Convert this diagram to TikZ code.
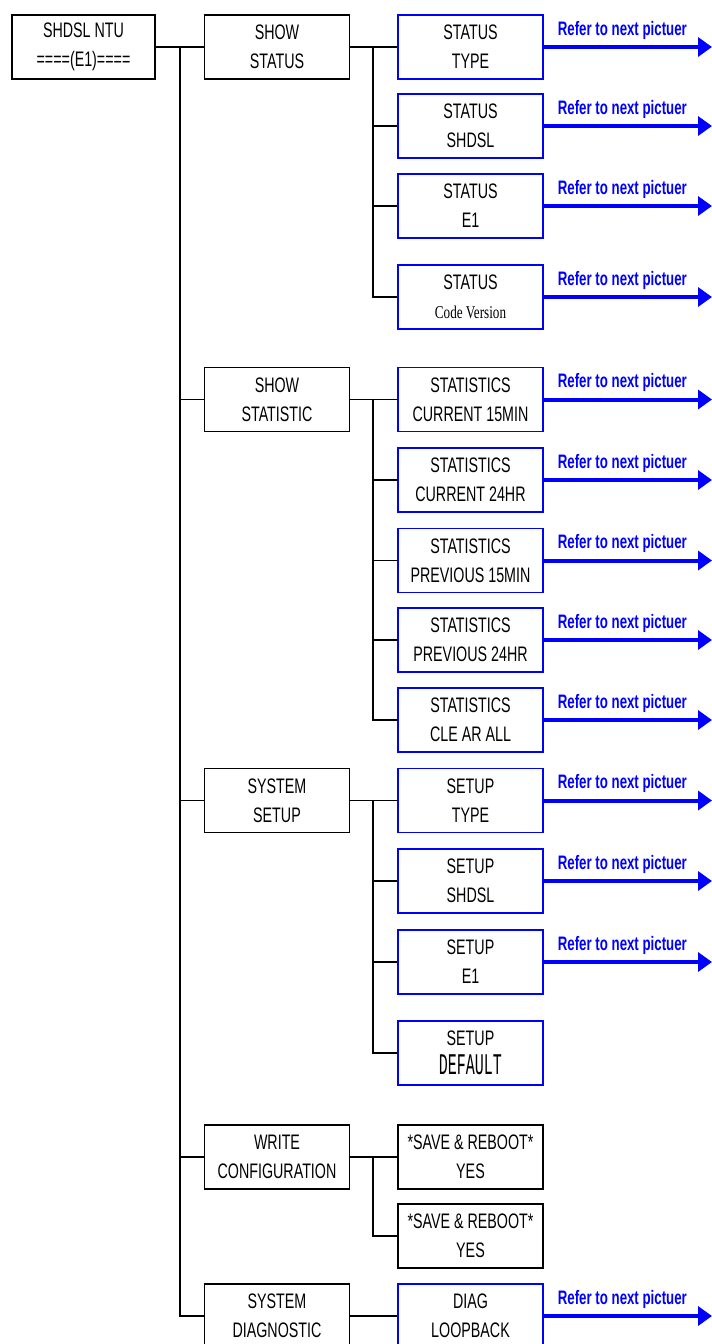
\documentclass[tikz,border=0pt]{standalone}
\usepackage{fontspec}
\setmainfont{Liberation Sans}
\newfontfamily\boxfont[FakeStretch=0.68]{Liberation Sans}
\newfontfamily\codefont[FakeStretch=0.73]{Liberation Serif}
\newfontfamily\deffont[FakeStretch=0.5]{Liberation Mono}
\usepackage{xcolor}
\definecolor{menublue}{RGB}{0,0,255}
\usetikzlibrary{arrows.meta}

\begin{document}
\begin{tikzpicture}[x=1pt,y=-1pt,
  menubox/.style={draw=black,line width=1.6pt,fill=white,minimum width=145pt,minimum height=64pt,inner sep=0pt,align=center,font=\boxfont\fontsize{21}{29}\selectfont},
  subbox/.style={menubox,draw=menublue},
  conn/.style={line width=1.3pt,black},
  refarrow/.style={-{Triangle[length=14pt,width=19pt]},line width=4pt,menublue},
  reflabel/.style={font=\boxfont\bfseries\fontsize{19.5}{20}\selectfont,text=menublue,anchor=base,inner sep=0pt}]
  \useasboundingbox (0,0) rectangle (712,1344);
  % Root
  \node[menubox,minimum width=143pt] (root) at (83.5,47) {SHDSL NTU\\====(E1)====};
  % Main menu
  \node[menubox] (show) at (277,47) {SHOW\\STATUS};
  \node[menubox] (statistic) at (277,399.5) {SHOW\\STATISTIC};
  \node[menubox] (setup) at (277,800.5) {SYSTEM\\SETUP};
  \node[menubox] (write) at (277,1157) {WRITE\\CONFIGURATION};
  \node[menubox] (diag) at (277,1316) {SYSTEM\\DIAGNOSTIC};
  % Status items
  \node[subbox] (stype) at (470.5,47) {STATUS\\TYPE};
  \node[subbox] (sshdsl) at (470.5,126) {STATUS\\SHDSL};
  \node[subbox] (se1) at (470.5,206) {STATUS\\E1};
  \node[subbox] (scode) at (470.5,297) {STATUS\\{\codefont\fontsize{18}{29}\selectfont Code Version}};
  % Statistic items
  \node[subbox] (cur15) at (470.5,399.5) {STATISTICS\\CURRENT 15MIN};
  \node[subbox] (cur24) at (470.5,480) {STATISTICS\\CURRENT 24HR};
  \node[subbox] (prev15) at (470.5,560.5) {STATISTICS\\PREVIOUS 15MIN};
  \node[subbox] (prev24) at (470.5,640) {STATISTICS\\PREVIOUS 24HR};
  \node[subbox] (clear) at (470.5,720) {STATISTICS\\CLE AR ALL};
  % Setup items
  \node[subbox] (uptype) at (470.5,800.5) {SETUP\\TYPE};
  \node[subbox] (upshdsl) at (470.5,881) {SETUP\\SHDSL};
  \node[subbox] (upe1) at (470.5,962) {SETUP\\E1};
  \node[subbox] (updefault) at (470.5,1053) {SETUP\\{\deffont\fontsize{30}{29}\selectfont DEFAULT}};
  % Write and diagnostic items
  \node[menubox] (save1) at (470.5,1157) {*SAVE \& REBOOT*\\YES};
  \node[menubox] (save2) at (470.5,1236) {*SAVE \& REBOOT*\\YES};
  \node[subbox] (loop) at (470.5,1316) {DIAG\\LOOPBACK};
  % Bus points
  \coordinate (trunk) at (180,47);
  \coordinate (statusbus) at (373,47);
  \coordinate (statbus) at (373,399.5);
  \coordinate (setupbus) at (373,800.5);
  \coordinate (writebus) at (373,1157);
  \coordinate (rightedge) at (712,0);
  % Tree lines
  \draw[conn] (root) -- (show);
  \foreach \n in {statistic,setup,write,diag}
    \draw[conn] (trunk) |- (\n);
  \draw[conn] (show) -- (stype);
  \foreach \n in {sshdsl,se1,scode}
    \draw[conn] (statusbus) |- (\n);
  \draw[conn] (statistic) -- (cur15);
  \foreach \n in {cur24,prev15,prev24,clear}
    \draw[conn] (statbus) |- (\n);
  \draw[conn] (setup) -- (uptype);
  \foreach \n in {upshdsl,upe1,updefault}
    \draw[conn] (setupbus) |- (\n);
  \draw[conn] (write) -- (save1);
  \draw[conn] (writebus) |- (save2);
  \draw[conn] (diag) -- (loop);
  % Arrows to next picture
  \foreach \n in {stype,sshdsl,se1,scode,cur15,cur24,prev15,prev24,clear,uptype,upshdsl,upe1,loop}
    \draw[refarrow] (\n.east) -- (\n.east -| rightedge)
      node[reflabel,pos=0.467,yshift=12pt] {Refer to next pictuer};
\end{tikzpicture}
\end{document}
